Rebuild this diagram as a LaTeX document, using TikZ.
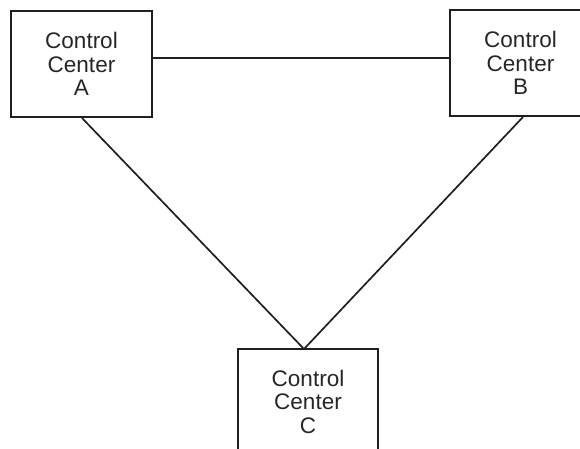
\documentclass[tikz,border=0pt]{standalone}
\usepackage{fontspec}
\setmainfont{Liberation Sans}
\usetikzlibrary{calc}
\begin{document}
\begin{tikzpicture}[x=1pt,y=-1pt,
  center/.style={draw=black!88, line width=2pt, fill=white, inner sep=0pt,
    minimum width=141pt, minimum height=106pt, align=center,
    font=\fontsize{22.5}{23.5}\selectfont, text=black!85},
  link/.style={draw=black!88, line width=1.7pt}]
  \path[use as bounding box, clip] (0,0) rectangle (580,449);

  % the three control centers
  \node[center] (A) at (81.5,64) {Control\\Center\\A};
  \node[center] (B) at (520.5,63) {Control\\Center\\B};
  \node[center, minimum width=140pt, minimum height=105pt] (C) at (308,401.5) {Control\\Center\\C};

  % attachment points of the links
  \coordinate (ab) at (0,58);
  \coordinate (apex) at (304,349);

  % links between the centers
  \draw[link] (A.east |- ab) -- (B.west |- ab);
  \draw[link] ($(A.south)+(0.5,0)$) -- (apex);
  \draw[link] ($(B.south)+(2.5,0)$) -- (apex);
\end{tikzpicture}
\end{document}
